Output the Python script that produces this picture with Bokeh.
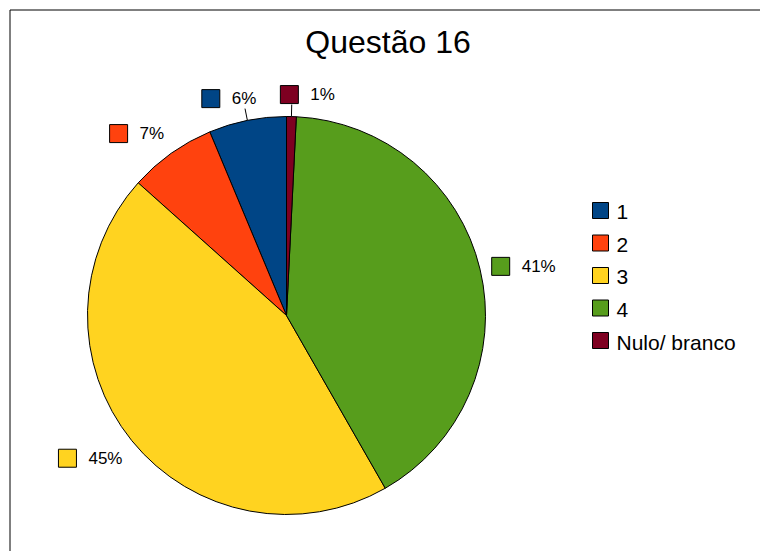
import math
from bokeh.plotting import figure
from bokeh.models import Range1d
from bokeh.core.properties import value
from bokeh.embed import file_html
from bokeh.resources import INLINE

# ---- data ----
title = "Questão 16"
categories = ["1", "2", "3", "4", "Nulo/ branco"]
counts = [8, 9, 57, 52, 1]
pct_labels = ["6%", "7%", "45%", "41%", "1%"]
colors = ["#004586", "#ff420e", "#ffd320", "#579d1c", "#7e0021"]

# ---- layout / style ----
FONT = "Liberation Sans"
W, H = 760, 551
IMG_H = 551
CX, CY, R = 286, IMG_H - 315, 199
leader = [True, False, False, False, True]

p = figure(width=W, height=H, x_range=Range1d(0, W),
           y_range=Range1d(IMG_H - H, IMG_H),
           output_backend="svg", toolbar_location=None, min_border=0)
p.axis.visible = False
p.grid.visible = False
p.outline_line_color = None
p.background_fill_color = "white"

def img_y(y):
    return IMG_H - y

# frame of the chart area
p.segment(x0=[9.5, 9.5], y0=[img_y(9.5), img_y(9.5)],
          x1=[9.5, 800], y1=[img_y(600), img_y(9.5)],
          line_color="black", line_width=1)

# title
p.text(x=[387.5], y=[img_y(41)], text=[title], text_align="center",
       text_baseline="middle", text_font=value(FONT), text_font_size="32px",
       text_color="black")

# wedges
total = float(sum(counts))
starts, ends = [], []
cum = 0.0
for c in counts:
    starts.append(math.pi / 2 + 2 * math.pi * cum / total)
    cum += c
    ends.append(math.pi / 2 + 2 * math.pi * cum / total)

p.wedge(x=[CX] * len(counts), y=[CY] * len(counts), radius=R,
        start_angle=starts, end_angle=ends, fill_color=colors,
        line_color="black", line_width=1)

# data labels
LF = 17
SQ = 18
GAP_T = 12
G = 12

def text_w(s):
    w = 0.0
    for ch in s:
        w += 0.889 if ch == "%" else 0.556
    return w * LF

boxes = []
for i, lab in enumerate(pct_labels):
    mid = (starts[i] + ends[i]) / 2
    dx, dy = math.cos(mid), math.sin(mid)
    ax, ay = CX + (R + G) * dx, CY + (R + G) * dy
    w = SQ + GAP_T + text_w(lab)
    h = SQ + 2
    # horizontal alignment of the label box relative to the anchor
    if dx > 0.5:
        left = ax
    elif dx < -0.5:
        left = ax - w
    else:
        left = ax - w / 2
    # vertical alignment
    if dy > 0.5:
        cy = ay + h / 2
    elif dy < -0.5:
        cy = ay - h / 2
    else:
        cy = ay
    boxes.append([left, cy, w, h])
    if leader[i]:
        p.segment(x0=[CX + R * dx], y0=[CY + R * dy], x1=[ax], y1=[ay],
                  line_color="black", line_width=1)

# separate overlapping label boxes
MIN_GAP = 24
for a in range(len(boxes)):
    for b in range(len(boxes)):
        if a == b:
            continue
        la, ya, wa, ha = boxes[a]
        lb, yb, wb, hb = boxes[b]
        if abs(ya - yb) < (ha + hb) / 2 and la < lb and la + wa + MIN_GAP > lb:
            push = (la + wa + MIN_GAP - lb) / 2
            boxes[a][0] -= push
            boxes[b][0] += push

for i, lab in enumerate(pct_labels):
    left, by, w, h = boxes[i]
    p.rect(x=[left + SQ / 2], y=[by], width=SQ, height=SQ,
           fill_color=colors[i], line_color="black", line_width=1)
    p.text(x=[left + SQ + GAP_T], y=[by], text=[lab], text_align="left",
           text_baseline="middle", text_font=value(FONT),
           text_font_size=f"{LF}px", text_color="black")

# legend (manual)
LEG_X = 600
LEG_Y0 = img_y(210)
LEG_STEP = 32.5
for i, cat in enumerate(categories):
    yy = LEG_Y0 - i * LEG_STEP
    p.rect(x=[LEG_X], y=[yy], width=16, height=16, fill_color=colors[i],
           line_color="black", line_width=1)
    p.text(x=[LEG_X + 16], y=[yy - 1.5], text=[cat], text_align="left",
           text_baseline="middle", text_font=value(FONT),
           text_font_size="21px", text_color="black")

open("out.html", "w").write(file_html(p, INLINE))
